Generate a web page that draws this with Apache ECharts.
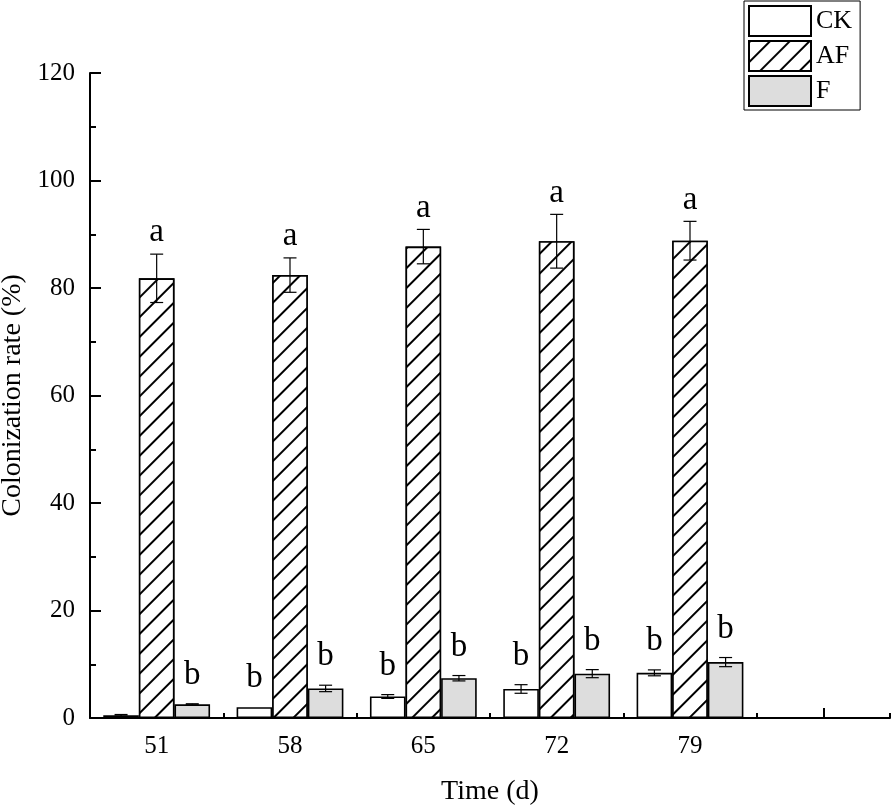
<!DOCTYPE html>
<html>
<head>
<meta charset="utf-8">
<script src="https://cdn.jsdelivr.net/npm/echarts@6/dist/echarts.min.js"></script>
<style>html,body{margin:0;padding:0;background:#fff;}#c{width:894px;height:810px;}</style>
</head>
<body>
<div id="c"></div>
<script>
const categories = ['51', '58', '65', '72', '79', ''];
const seriesNames = ['CK', 'AF', 'F'];
const ckMean = [0.5, 2.0, 4.0, 5.4, 8.4];
const ckErr = [0.15, 0, 0.35, 0.8, 0.55];
const afMean = [81.8, 82.4, 87.7, 88.7, 88.8];
const afErr = [4.5, 3.2, 3.2, 5.0, 3.6];
const fMean = [2.55, 5.5, 7.4, 8.25, 10.4];
const fErr = [0.1, 0.6, 0.5, 0.75, 0.85];
const ckLetters = ['', 'b', 'b', 'b', 'b'];
const afLetters = ['a', 'a', 'a', 'a', 'a'];
const fLetters = ['b', 'b', 'b', 'b', 'b'];
const yTicks = [0, 20, 40, 60, 80, 100, 120];

const FONT = 'Liberation Serif';
const BAR_FRAC = 0.267;

const groups = [
  {name: 'CK', mean: ckMean, err: ckErr, letters: ckLetters, off: -1, lift: 12,
   style: {color: '#ffffff', borderColor: '#000', borderWidth: 1.6}},
  {name: 'AF', mean: afMean, err: afErr, letters: afLetters, off: 0, lift: 5,
   style: {color: '#ffffff', borderColor: '#000', borderWidth: 1.6,
     decal: {symbol: 'rect', symbolSize: 1, color: '#000', backgroundColor: '#ffffff',
       dashArrayX: [1, 0], dashArrayY: [1.1, 12], rotation: -Math.PI / 4}}},
  {name: 'F', mean: fMean, err: fErr, letters: fLetters, off: 1, lift: 12,
   style: {color: '#dddddd', borderColor: '#000', borderWidth: 1.6}}
];

const series = [];
groups.forEach(g => {
  series.push({
    name: g.name, type: 'bar', xAxisIndex: 0, yAxisIndex: 0,
    data: g.mean, barWidth: (BAR_FRAC * 100) + '%', barGap: '0%',
    itemStyle: g.style, emphasis: {disabled: true}, z: 2
  });
});
groups.forEach(g => {
  series.push({
    type: 'custom', xAxisIndex: 0, yAxisIndex: 0, z: 5, silent: true,
    data: g.mean.map((m, i) => [i, m, g.err[i]]),
    renderItem: function (params, api) {
      const i = api.value(0), m = api.value(1), e = api.value(2);
      const band = api.size([1, 0])[0];
      const bw = band * BAR_FRAC;
      const cx = api.coord([i, 0])[0] + g.off * bw;
      const yt = api.coord([i, m + e])[1];
      const yb = api.coord([i, m - e])[1];
      const st = {stroke: '#000', lineWidth: 1.2};
      const ch = [];
      if (e > 0) {
        ch.push({type: 'line', shape: {x1: cx, y1: yt, x2: cx, y2: yb}, style: st});
        ch.push({type: 'line', shape: {x1: cx - 6.5, y1: yt, x2: cx + 6.5, y2: yt}, style: st});
        ch.push({type: 'line', shape: {x1: cx - 6.5, y1: yb, x2: cx + 6.5, y2: yb}, style: st});
      }
      const letter = g.letters[params.dataIndex];
      if (letter) {
        ch.push({type: 'text', style: {text: letter, x: cx, y: yt - g.lift,
          align: 'center', verticalAlign: 'bottom', font: '33px "' + FONT + '"', fill: '#000'}});
      }
      return {type: 'group', children: ch};
    }
  });
});

const chart = echarts.init(document.getElementById('c'), null, {renderer: 'canvas'});
chart.setOption({
  animation: false,
  backgroundColor: '#fff',
  grid: {left: 90, right: 4, top: 73, bottom: 92, containLabel: false, outerBoundsMode: 'none'},
  legend: {
    data: seriesNames, orient: 'vertical', left: 744, top: 1,
    itemWidth: 62, itemHeight: 30, itemGap: 3,
    borderColor: '#000', borderWidth: 1, padding: [4, 8, 3, 4],
    icon: 'rect', selectedMode: false,
    textStyle: {fontFamily: FONT, fontSize: 26, color: '#000', lineHeight: 30}
  },
  xAxis: [{
    type: 'category', data: categories, position: 'bottom', boundaryGap: true,
    name: 'Time (d)', nameLocation: 'middle', nameGap: 60,
    nameTextStyle: {fontFamily: FONT, fontSize: 28, color: '#000'},
    axisLine: {show: true, lineStyle: {color: '#000', width: 2}},
    axisTick: {show: true, inside: true, length: 10, alignWithLabel: true, interval: 0,
      lineStyle: {color: '#000', width: 2}},
    axisLabel: {fontFamily: FONT, fontSize: 25, color: '#000', margin: 16, interval: 0},
    splitLine: {show: false}
  }, {
    type: 'category', data: categories, position: 'bottom', boundaryGap: true, offset: 0,
    axisLine: {show: false},
    axisTick: {show: true, inside: true, length: 5, alignWithLabel: false, interval: 0,
      lineStyle: {color: '#000', width: 2}},
    axisLabel: {show: false}, splitLine: {show: false}
  }],
  yAxis: {
    type: 'value', min: 0, max: 120, interval: 20,
    name: 'Colonization rate (%)', nameLocation: 'middle', nameGap: 63,
    nameTextStyle: {fontFamily: FONT, fontSize: 28, color: '#000'},
    axisLine: {show: true, lineStyle: {color: '#000', width: 2}},
    axisTick: {show: true, inside: true, length: 11, lineStyle: {color: '#000', width: 2}},
    minorTick: {show: true, splitNumber: 2, length: 6, lineStyle: {color: '#000', width: 2}},
    axisLabel: {fontFamily: FONT, fontSize: 25, color: '#000', margin: 15,
      formatter: v => yTicks.indexOf(v) >= 0 ? String(v) : ''},
    splitLine: {show: false}
  },
  series: series
});
</script>
</body>
</html>
